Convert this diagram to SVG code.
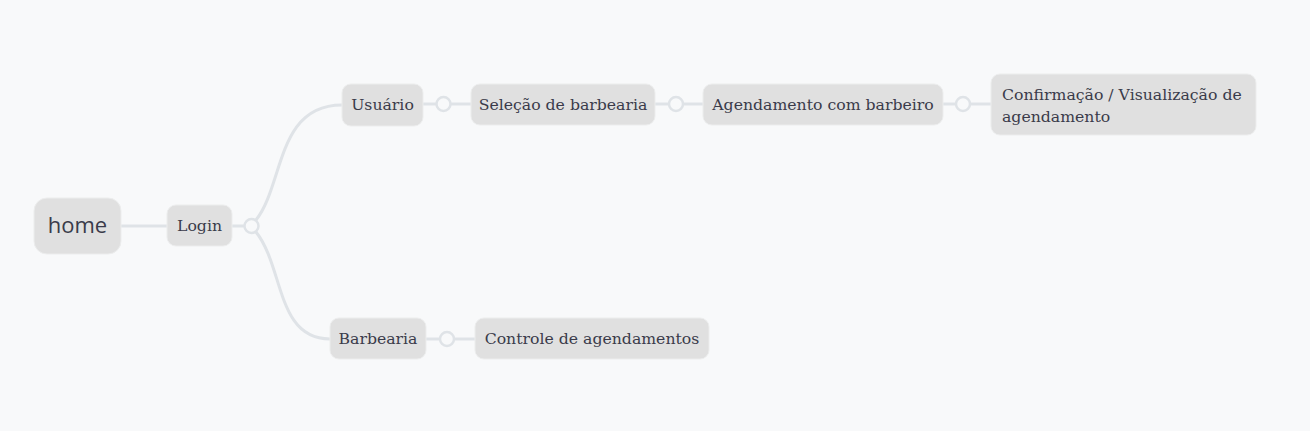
<svg xmlns="http://www.w3.org/2000/svg" width="1310" height="431" viewBox="0 0 1310 431">
<style>
.bg{fill:#f8f9fa}
.n{fill:#e0e0e0;stroke:#eceded;stroke-width:1}
.t{font-family:"DejaVu Serif","Liberation Serif",serif;font-size:15.7px;fill:#3a3b4a}
.c{fill:none;stroke:#dfe3e7;stroke-width:3}
.k{fill:#f8f9fa;stroke:#dfe3e7;stroke-width:2.5}
</style>
<rect class="bg" x="0" y="0" width="1310" height="431"/>
<g id="connectors">
<path class="c" d="M121,226 H167"/>
<path class="c" d="M232,226 H245"/>
<path class="c" d="M256,220 C284,185 276,105 342,105"/>
<path class="c" d="M256,232 C284,267 276,339 330,339"/>
<path class="c" d="M423,104 H437 M450,104 H471"/>
<path class="c" d="M655,104 H669 M683,104 H703"/>
<path class="c" d="M943,104 H956 M970,104 H991"/>
<path class="c" d="M426,339 H440 M454,339 H475"/>
<circle class="k" cx="251.5" cy="226" r="7"/>
<circle class="k" cx="443.5" cy="104" r="7"/>
<circle class="k" cx="676" cy="104" r="7"/>
<circle class="k" cx="963" cy="104" r="7"/>
<circle class="k" cx="447" cy="339" r="7"/>
</g>
<g id="home">
<rect class="n" x="34" y="198" width="87" height="56" rx="13"/>
<text x="77.5" y="233" text-anchor="middle" style="font-family:'Open Sans','Noto Sans',sans-serif;font-size:22px;fill:#3a3b4a">home</text>
</g>
<g id="login">
<rect class="n" x="167" y="205" width="65" height="41" rx="9"/>
<text class="t" x="199.5" y="231" text-anchor="middle">Login</text>
</g>
<g id="usuario">
<rect class="n" x="342" y="84" width="81" height="42" rx="9"/>
<text class="t" x="382.5" y="110" text-anchor="middle">Usuário</text>
</g>
<g id="selecao">
<rect class="n" x="471" y="84" width="184" height="41" rx="9"/>
<text class="t" x="563" y="110" text-anchor="middle">Seleção de barbearia</text>
</g>
<g id="agendamento">
<rect class="n" x="703" y="84" width="240" height="41" rx="9"/>
<text class="t" x="823" y="110" text-anchor="middle">Agendamento com barbeiro</text>
</g>
<g id="confirmacao">
<rect class="n" x="991" y="74" width="265" height="61" rx="9"/>
<text class="t" x="1002" y="100">Confirmação / Visualização de</text>
<text class="t" x="1002" y="121.5">agendamento</text>
</g>
<g id="barbearia">
<rect class="n" x="330" y="318" width="96" height="41" rx="9"/>
<text class="t" x="378" y="344" text-anchor="middle">Barbearia</text>
</g>
<g id="controle">
<rect class="n" x="475" y="318" width="234" height="41" rx="9"/>
<text class="t" x="592" y="344" text-anchor="middle">Controle de agendamentos</text>
</g>
</svg>
